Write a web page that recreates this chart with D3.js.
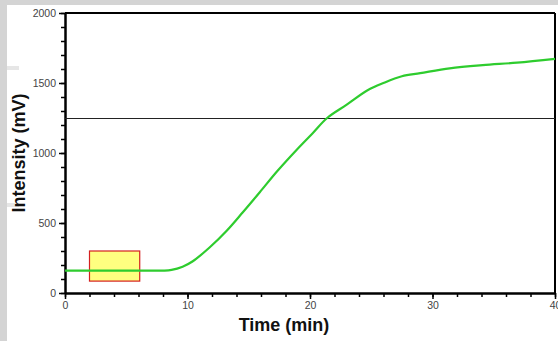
<!DOCTYPE html>
<html><head><meta charset="utf-8">
<script src="https://cdn.jsdelivr.net/npm/d3@7"></script>
<style>
html,body{margin:0;padding:0;background:#d4d4d4;}
svg{display:block;}
</style></head>
<body>
<svg id="chart" width="558" height="341"></svg>
<script>
// Data
const timeValues = [0, 2, 4, 6, 8, 8.7, 9.6, 10.4, 11.8, 13.2, 14.5, 15.9, 17.3, 18.9, 20.2, 21.4, 23.0, 24.7, 26.0, 27.5, 29.0, 31.4, 34.1, 36.9, 40];
const intensityValues = [160, 160, 160, 160, 160, 165, 188, 225, 325, 445, 575, 720, 868, 1022, 1140, 1250, 1345, 1448, 1500, 1548, 1570, 1605, 1628, 1645, 1672];
const xTickLabels = [0, 10, 20, 30, 40];
const yTickLabels = [0, 500, 1000, 1500, 2000];
const thresholdValue = [1250];
const boxTime = [2, 6.1];
const boxIntensity = [85, 300];

const svg = d3.select("#chart");
// white panel
svg.append("rect").attr("x",7).attr("y",5).attr("width",551).attr("height",336).attr("fill","#ffffff");
svg.append("rect").attr("x",7).attr("y",66).attr("width",12).attr("height",4).attr("fill","#e6e6e6");
svg.append("rect").attr("x",7).attr("y",203).attr("width",12).attr("height",4).attr("fill","#e6e6e6");

const m = {left:65, right:555, top:13, bottom:293};
const x = d3.scaleLinear().domain([0,40]).range([m.left, m.right]);
const y = d3.scaleLinear().domain([0,2000]).range([m.bottom, m.top]);

// frame top & right
svg.append("line").attr("x1",m.left).attr("x2",m.right).attr("y1",m.top).attr("y2",m.top).attr("stroke","#000").attr("stroke-width",2);
svg.append("line").attr("x1",m.right).attr("x2",m.right).attr("y1",m.top).attr("y2",m.bottom).attr("stroke","#000").attr("stroke-width",2);

// minor ticks
const xAxisMinor = d3.axisBottom(x).tickValues(d3.range(0,41,2)).tickSize(4).tickFormat("");
const yAxisMinor = d3.axisLeft(y).tickValues(d3.range(0,2001,100)).tickSize(4).tickFormat("");
const gxm = svg.append("g").attr("transform",`translate(0,${m.bottom})`).call(xAxisMinor);
const gym = svg.append("g").attr("transform",`translate(${m.left},0)`).call(yAxisMinor);
[gxm,gym].forEach(g=>{g.select(".domain").remove(); g.selectAll("line").attr("stroke","#000").attr("stroke-width",1.5);});

// major axes
const xAxis = d3.axisBottom(x).tickValues(xTickLabels).tickFormat(d3.format("d")).tickSize(6).tickSizeOuter(0).tickPadding(3);
const yAxis = d3.axisLeft(y).tickValues(yTickLabels).tickFormat(d3.format("d")).tickSize(6).tickSizeOuter(0).tickPadding(3);
const gx = svg.append("g").attr("transform",`translate(0,${m.bottom})`).call(xAxis);
const gy = svg.append("g").attr("transform",`translate(${m.left},0)`).call(yAxis);
[gx,gy].forEach(g=>{
  g.select(".domain").attr("stroke","#000").attr("stroke-width",2.5);
  g.selectAll(".tick line").attr("stroke","#000").attr("stroke-width",1.5);
  g.selectAll(".tick text").attr("font-family","Liberation Sans, Arial, sans-serif").attr("font-size",10.5).attr("fill","#444");
});

// threshold line
svg.selectAll(".thr").data(thresholdValue).enter().append("line")
  .attr("x1",m.left).attr("x2",m.right).attr("y1",d=>y(d)).attr("y2",d=>y(d))
  .attr("stroke","#222").attr("stroke-width",1).attr("shape-rendering","crispEdges");

// box
svg.append("rect").attr("x",x(boxTime[0])).attr("y",y(boxIntensity[1]))
  .attr("width",x(boxTime[1])-x(boxTime[0])).attr("height",y(boxIntensity[0])-y(boxIntensity[1]))
  .attr("fill","#ffff80").attr("stroke","#d42020").attr("stroke-width",1.2);

// curve
const data = timeValues.map((t,i)=>({t, v:intensityValues[i]}));
svg.append("path").datum(data)
  .attr("d", d3.line().x(d=>x(d.t)).y(d=>y(d.v)).curve(d3.curveCatmullRom.alpha(0.5)))
  .attr("fill","none").attr("stroke","#2ecc2e").attr("stroke-width",2.2);

// titles
svg.append("text").attr("x",284).attr("y",331).attr("text-anchor","middle")
  .attr("font-family","Liberation Sans, Arial, sans-serif").attr("font-weight","bold").attr("font-size",18)
  .attr("fill","#111").text("Time (min)");
svg.append("text").attr("transform","translate(25,153) rotate(-90)").attr("text-anchor","middle")
  .attr("font-family","Liberation Sans, Arial, sans-serif").attr("font-weight","bold").attr("font-size",18)
  .attr("fill","#111").text("Intensity (mV)");
</script>
</body></html>
